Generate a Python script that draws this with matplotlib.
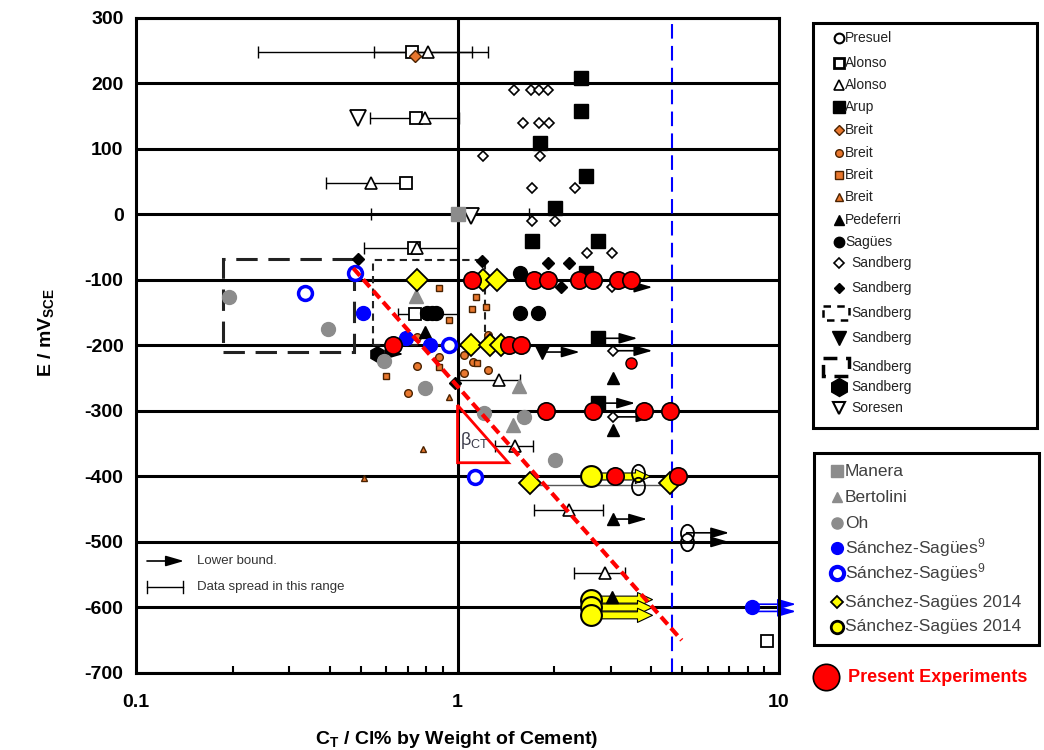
import numpy as np
import matplotlib.pyplot as plt
from matplotlib.patches import Rectangle, Polygon
from matplotlib.path import Path
from matplotlib.transforms import Affine2D
from matplotlib.ticker import NullFormatter

plt.rcParams['font.family'] = ['Liberation Sans', 'DejaVu Sans']
plt.rcParams['mathtext.fontset'] = 'custom'
plt.rcParams['mathtext.rm'] = 'Liberation Sans'
plt.rcParams['mathtext.it'] = 'Liberation Sans:italic'
plt.rcParams['mathtext.bf'] = 'Liberation Sans:bold'
plt.rcParams['axes.unicode_minus'] = False

# values: C_T (% Cl by wt. of cement), E (mV SCE)
presuel_x = [3.65, 3.65, 5.16, 5.16]
presuel_y = [-395, -415, -486, -500]
presuel_lb = [None, None, 7.0, 7.0]

alonso_sq_x = [0.72, 0.745, 0.69, 0.73, 0.735, 9.2]
alonso_sq_y = [248, 147, 48, -51, -152, -651]
alonso_sq_bars = [(0.24, 1.11), (0.535, 1.01), None, (0.51, 1.0), (0.654, 1.0), None]

alonso_tri_x = [0.81, 0.79, 0.54, 0.75, 1.35, 1.51, 2.22, 2.88]
alonso_tri_y = [248, 147, 48, -51, -253, -353, -451, -547]
alonso_tri_bars = [(0.55, 1.24), None, (0.39, 0.66), None, (1.01, 1.56), (1.31, 1.72),
                   (1.73, 2.84), (2.30, 3.32)]

arup_x = [2.42, 2.42, 1.80, 2.51, 2.01, 1.70, 2.74, 2.51, 2.74, 2.74]
arup_y = [208, 158, 109, 59, 10, -40, -40, -89, -189, -288]
arup_lb = [None, None, None, None, None, None, None, None, 3.63, 3.57]

breit_dia_x = [0.74]
breit_dia_y = [242]
breit_circ_x = [0.75, 0.878, 0.75, 0.70, 1.05, 1.12, 1.05, 1.24, 1.24]
breit_circ_y = [-187, -218, -231, -273, -214, -225, -242, -237, -184]
breit_sq_x = [0.878, 1.14, 1.11, 0.944, 1.23, 0.60, 0.878, 1.15]
breit_sq_y = [-112, -126, -144, -161, -141, -247, -233, -227]
breit_tri_x = [0.944, 0.78, 0.512]
breit_tri_y = [-279, -358, -402]

pedeferri_x = [0.79, 3.05, 3.05, 3.05, 3.03]
pedeferri_y = [-179, -250, -329, -465, -584]
pedeferri_lb = [None, None, None, 3.89, None]

sagues_x = [1.56, 0.806, 0.835, 0.86, 1.56, 1.78]
sagues_y = [-89, -150, -150, -150, -150, -150]

sand_open_x = [1.50, 1.69, 1.79, 1.91, 1.60, 1.79, 1.93, 1.197, 1.80, 1.70, 2.32,
               1.70, 2.01, 2.53, 3.03, 3.03, 3.05, 3.05]
sand_open_y = [190, 190, 190, 190, 140, 140, 140, 89, 89, 40, 40,
               -10, -10, -59, -59, -111, -208, -309]
sand_open_lb = [None, None, None, None, None, None, None, None, None, None, None,
                None, None, None, None, 4.04, 4.04, 4.1]

sand_fill_x = [0.49, 1.19, 1.91, 2.22, 2.10, 0.98]
sand_fill_y = [-68, -71, -74, -74, -111, -258]

sand_vtri_x = [1.83]
sand_vtri_y = [-210]
sand_vtri_lb = [2.40]

sand_hex_x = [0.56]
sand_hex_y = [-213]
sand_hex_lb = [0.68]

# Sandberg ranges drawn as boxes: (x0, x1, y0, y1)
sand_box_long = (0.186, 0.477, -210, -68)
sand_box_short = (0.546, 1.22, -200, -70)

soresen_x = [0.49, 1.10]
soresen_y = [147, -3]

manera_x = [1.0]
manera_y = [0]
manera_bars = [(0.54, 1.67)]

bertolini_x = [0.744, 1.55, 1.49]
bertolini_y = [-124, -262, -321]

oh_x = [0.195, 0.395, 0.59, 0.79, 1.21, 1.61, 2.01]
oh_y = [-126, -175, -224, -265, -303, -309, -375]

ss9_fill_x = [0.508, 0.693, 0.823, 8.24]
ss9_fill_y = [-150, -189, -199, -600]
ss9_fill_lb = [None, None, None, 11.3]

ss9_open_x = [0.48, 0.335, 0.944, 1.13]
ss9_open_y = [-89, -120, -200, -401]

ss14_dia_x = [0.75, 1.197, 1.33, 1.10, 1.26, 1.37, 1.68, 4.57]
ss14_dia_y = [-100, -100, -100, -200, -200, -200, -410, -410]

ss14_circ_x = [2.6, 2.6, 2.6, 2.6]
ss14_circ_y = [-400, -588, -600, -612]
ss14_circ_lb = [3.98, 4.04, 4.04, 4.04]

present_x = [1.106, 1.73, 1.91, 2.39, 2.64, 3.16, 3.47,
             0.631, 1.45, 1.57,
             1.88, 2.64, 3.79, 4.57,
             3.09, 4.84]
present_y = [-100, -100, -100, -100, -100, -100, -100,
             -200, -200, -200,
             -300, -300, -300, -300,
             -400, -400]
present_small_x = [3.47]
present_small_y = [-227]

trend_x = [0.474, 4.98]
trend_y = [-82, -650]
beta_x = [1.0, 1.0, 1.44]
beta_y = [-291, -379, -379]
ct_limit = 4.65

ORANGE = '#e8772e'
BROWN = '#4a2200'
GRAY = '#8c8c8c'
BLUE = '#0000ff'
YELLOW = '#ffff00'

fig = plt.figure(figsize=(10.44, 7.5), dpi=100)
ax = fig.add_axes([0.1303, 0.1027, 0.6159, 0.8733])
ax.set_xscale('log')
ax.set_xlim(0.1, 10)
ax.set_ylim(-700, 300)
ax.set_yticks(np.arange(-700, 301, 100))
ax.set_xticks([0.1, 1, 10])
ax.set_xticklabels(['0.1', '1', '10'])
ax.xaxis.set_minor_formatter(NullFormatter())
ax.grid(axis='y', color='k', lw=2.2)
ax.set_axisbelow(True)
ax.axvline(1, color='k', lw=2.2, zorder=0.6)
for s in ax.spines.values():
    s.set_linewidth(2.2)
ax.tick_params(axis='both', which='major', length=0, labelsize=14)
ax.tick_params(axis='x', which='major', pad=15)
ax.tick_params(axis='y', which='major', pad=9)
ax.tick_params(axis='x', which='minor', direction='in', length=5, width=1.5)
ax.tick_params(axis='y', which='minor', length=0)
for lab in ax.get_xticklabels() + ax.get_yticklabels():
    lab.set_fontweight('bold')

ax.set_xlabel(r'C$_{\mathbf{T}}$ / Cl% by Weight of Cement)', fontsize=14, fontweight='bold')
ax.xaxis.set_label_coords(0.499, -0.085)
ax.set_ylabel(r'E / mV$_{\mathbf{SCE}}$', fontsize=14, fontweight='bold')
ax.yaxis.set_label_coords(-0.125, 0.52)


def pts(x, y, z=3, **kw):
    ax.plot(x, y, ls='none', zorder=z, **kw)


def spread(x, y, bars):
    for xi, yi, b in zip(x, y, bars):
        if b is None:
            continue
        ax.errorbar(xi, yi, xerr=[[xi - b[0]], [b[1] - xi]], fmt='none', ecolor='k',
                    elinewidth=1, capsize=4, capthick=1, zorder=2)


def lower_bound(x, y, ends, color='k'):
    for xi, yi, e in zip(x, y, ends):
        if e is None:
            continue
        ax.annotate('', xy=(e, yi), xytext=(xi, yi), annotation_clip=False, zorder=2.5,
                    arrowprops=dict(arrowstyle='-|>,head_length=0.55,head_width=0.16',
                                    color=color, lw=1.2, shrinkA=0, shrinkB=0,
                                    mutation_scale=20))


def fat_arrow(x, y, ends):
    for xi, yi, e in zip(x, y, ends):
        ax.annotate('', xy=(e, yi), xytext=(xi, yi), zorder=2.7,
                    arrowprops=dict(arrowstyle='simple,head_length=0.9,head_width=0.85,tail_width=0.42',
                                    fc=YELLOW, ec='k', lw=0.8, shrinkA=0, shrinkB=0,
                                    mutation_scale=12))


# reference lines and ranges
ax.axvline(ct_limit, color=BLUE, lw=1.5, dashes=(7, 3.5), zorder=1)
for (x0, x1, y0, y1), lw, dsh in [(sand_box_long, 2.2, (7, 3.5)), (sand_box_short, 1.5, (3.5, 2.5))]:
    ax.add_patch(Rectangle((x0, y0), x1 - x0, y1 - y0, fill=False, ec='#222222', lw=lw,
                           ls=(0, dsh), zorder=1.5))
ax.plot(trend_x, trend_y, color='#ff0000', lw=3, dashes=(2.4, 1.2), zorder=3.5)
ax.add_patch(Polygon(list(zip(beta_x, beta_y)), closed=True, fill=False, ec='#ff0000', lw=2,
                     zorder=2.8))
ax.text(1.015, -345, r'β$_{\rm CT}$', fontsize=13, color='#3a3a4a', va='center', ha='left',
        zorder=4)
ax.plot([ss14_dia_x[6], ss14_dia_x[7]], [ss14_dia_y[6] - 3, ss14_dia_y[7] - 3], color='#555555',
        lw=1, zorder=2)

# error bars and lower-bound arrows
spread(alonso_sq_x, alonso_sq_y, alonso_sq_bars)
spread(alonso_tri_x, alonso_tri_y, alonso_tri_bars)
spread(manera_x, manera_y, manera_bars)
lower_bound(presuel_x, presuel_y, presuel_lb)
lower_bound(arup_x, arup_y, arup_lb)
lower_bound(pedeferri_x, pedeferri_y, pedeferri_lb)
lower_bound(sand_open_x, sand_open_y, sand_open_lb)
lower_bound(sand_vtri_x, sand_vtri_y, sand_vtri_lb)
lower_bound(sand_hex_x, sand_hex_y, sand_hex_lb)
lower_bound(ss9_fill_x, [v + 5 for v in ss9_fill_y], ss9_fill_lb, color=BLUE)
lower_bound(ss9_fill_x, [v - 6 for v in ss9_fill_y], ss9_fill_lb, color=BLUE)
fat_arrow(ss14_circ_x, ss14_circ_y, ss14_circ_lb)

# markers
oval = Path.unit_circle().transformed(Affine2D().scale(0.75, 1.0))
pts(presuel_x, presuel_y, marker=oval, ms=12.5, mfc='none', mec='k', mew=1.3)
pts(alonso_sq_x, alonso_sq_y, marker='s', ms=8.5, mfc='white', mec='k', mew=1.3)
pts(alonso_tri_x, alonso_tri_y, marker='^', ms=8.5, mfc='white', mec='k', mew=1.2)
pts(arup_x, arup_y, marker='s', ms=9.5, mfc='k', mec='k')
pts(breit_dia_x, breit_dia_y, marker='D', ms=6.5, mfc=ORANGE, mec=BROWN, mew=1)
pts(breit_circ_x, breit_circ_y, marker='o', ms=5.5, mfc=ORANGE, mec=BROWN, mew=1)
pts(breit_sq_x, breit_sq_y, marker='s', ms=5, mfc=ORANGE, mec=BROWN, mew=1)
pts(breit_tri_x, breit_tri_y, marker='^', ms=5, mfc=ORANGE, mec=BROWN, mew=1)
pts(pedeferri_x, pedeferri_y, marker='^', ms=9, mfc='k', mec='k')
pts(sagues_x, sagues_y, marker='o', ms=10, mfc='k', mec='k')
pts(sand_open_x, sand_open_y, marker='D', ms=5.5, mfc='white', mec='k', mew=1.2)
pts(sand_fill_x, sand_fill_y, marker='D', ms=6, mfc='k', mec='k')
pts(sand_vtri_x, sand_vtri_y, marker='v', ms=10, mfc='k', mec='k')
pts(sand_hex_x, sand_hex_y, marker='h', ms=11, mfc='k', mec='k')
pts(soresen_x, soresen_y, marker='v', ms=12, mfc='white', mec='k', mew=1.3)
pts(manera_x, manera_y, marker='s', ms=10, mfc=GRAY, mec=GRAY)
pts(bertolini_x, bertolini_y, marker='^', ms=10, mfc=GRAY, mec=GRAY)
pts(oh_x, oh_y, marker='o', ms=10, mfc=GRAY, mec=GRAY)
pts(ss9_fill_x, ss9_fill_y, marker='o', ms=10, mfc=BLUE, mec=BLUE)
pts(ss9_open_x, ss9_open_y, marker='o', ms=10, mfc='white', mec=BLUE, mew=2.5)
pts(ss14_dia_x, ss14_dia_y, z=3.2, marker='D', ms=11, mfc=YELLOW, mec='k', mew=1.3)
pts(ss14_circ_x, ss14_circ_y, z=3.2, marker='o', ms=15, mfc=YELLOW, mec='k', mew=1.5)
pts(present_x, present_y, z=4, marker='o', ms=12.5, mfc='#ff0000', mec='k', mew=1.2)
pts(present_small_x, present_small_y, z=4, marker='o', ms=8, mfc='#ff0000', mec='k', mew=1)

# overlay in figure pixels for legends and the in-plot key
ov = fig.add_axes([0, 0, 1, 1])
ov.set_xlim(0, 1044)
ov.set_ylim(750, 0)
ov.axis('off')

# in-plot key
ov.annotate('', xy=(184, 561), xytext=(147, 561),
            arrowprops=dict(arrowstyle='-|>,head_length=0.55,head_width=0.16', color='k', lw=1.2,
                            shrinkA=0, shrinkB=0, mutation_scale=20))
ov.text(197, 561, 'Lower bound.', fontsize=9.5, color='#333333', va='center')
ov.plot([147, 183], [587, 587], color='k', lw=1)
ov.plot([147, 147], [581, 593], color='k', lw=1)
ov.plot([183, 183], [581, 593], color='k', lw=1)
ov.text(197, 587, 'Data spread in this range', fontsize=9.5, color='#333333', va='center')

# legend 1
ov.add_patch(Rectangle((813, 23), 224, 405, fill=False, ec='k', lw=2.2))
leg1 = [
    ('Presuel', 38, dict(marker='o', ms=7, mfc='white', mec='k', mew=1.5)),
    ('Alonso', 63, dict(marker='s', ms=7.5, mfc='white', mec='k', mew=2)),
    ('Alonso', 85, dict(marker='^', ms=7, mfc='white', mec='k', mew=1.2)),
    ('Arup', 107, dict(marker='s', ms=9, mfc='k', mec='k')),
    ('Breit', 130, dict(marker='D', ms=5, mfc=ORANGE, mec=BROWN, mew=1)),
    ('Breit', 153, dict(marker='o', ms=5.5, mfc=ORANGE, mec=BROWN, mew=1)),
    ('Breit', 175, dict(marker='s', ms=5.5, mfc=ORANGE, mec=BROWN, mew=1)),
    ('Breit', 197, dict(marker='^', ms=5.5, mfc=ORANGE, mec=BROWN, mew=1)),
    ('Pedeferri', 220, dict(marker='^', ms=7.5, mfc='k', mec='k')),
    ('Sagües', 242, dict(marker='o', ms=7.5, mfc='k', mec='k')),
    ('Sandberg', 263, dict(marker='D', ms=5, mfc='white', mec='k', mew=1.2)),
    ('Sandberg', 288, dict(marker='D', ms=5, mfc='k', mec='k')),
    ('Sandberg', 313, None),
    ('Sandberg', 338, dict(marker='v', ms=10, mfc='k', mec='k')),
    ('Sandberg', 367, None),
    ('Sandberg', 387, dict(marker='h', ms=13, mfc='k', mec='k')),
    ('Soresen', 408, dict(marker='v', ms=9, mfc='white', mec='k', mew=1.5)),
]
for i, (lab, yy, sty) in enumerate(leg1):
    if sty is not None:
        ov.plot([839], [yy], ls='none', **sty)
    tx = 845 if i < 10 else 851
    ov.text(tx, yy, lab, fontsize=10, color='#222222', va='center')
ov.add_patch(Rectangle((823, 306), 26, 14, fill=False, ec='k', lw=1.8, ls=(0, (3, 2.5))))
ov.add_patch(Rectangle((823, 358), 26, 18, fill=False, ec='k', lw=2.5, ls=(0, (4, 2.5))))

# legend 2
ov.add_patch(Rectangle((814, 453), 225, 192, fill=False, ec='k', lw=2.2))
leg2 = [
    ('Manera', 471, dict(marker='s', ms=8, mfc=GRAY, mec=GRAY)),
    ('Bertolini', 497, dict(marker='^', ms=7, mfc=GRAY, mec=GRAY)),
    ('Oh', 523, dict(marker='o', ms=8, mfc=GRAY, mec=GRAY)),
    ('Sánchez-Sagües$^{9}$', 548, dict(marker='o', ms=8.5, mfc=BLUE, mec=BLUE)),
    ('Sánchez-Sagües$^{9}$', 573, dict(marker='o', ms=9.5, mfc='white', mec=BLUE, mew=3)),
    ('Sánchez-Sagües 2014', 602, dict(marker='D', ms=6, mfc=YELLOW, mec='k', mew=1.3)),
    ('Sánchez-Sagües 2014', 627, dict(marker='o', ms=9, mfc=YELLOW, mec='k', mew=2)),
]
for lab, yy, sty in leg2:
    ov.plot([837], [yy], ls='none', **sty)
    ov.text(845, yy, lab, fontsize=12.5, color='#404040', va='center')

ov.plot([826], [677], ls='none', marker='o', ms=19, mfc='#ff0000', mec='k', mew=1.2)
ov.text(848, 677, 'Present Experiments', fontsize=13, fontweight='bold', color='#ff0000',
        va='center')

fig.savefig('out.png', dpi=100)
